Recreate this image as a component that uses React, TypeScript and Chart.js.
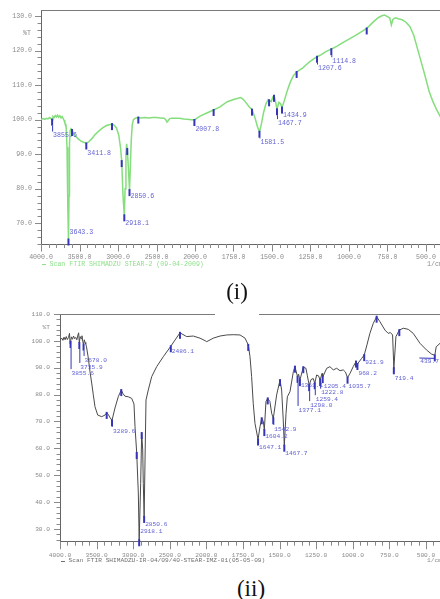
import React, { useEffect, useRef } from 'react';
import { Chart, registerables } from 'chart.js';

Chart.register(...registerables);

// ---------- axes ----------
const xTickWn = [4000, 3500, 3000, 2500, 2000, 1750, 1500, 1250, 1000, 750, 500];
const xTickLabels = ['4000.0', '3500.0', '3000.0', '2500.0', '2000.0', '1750.0', '1500.0', '1250.0', '1000.0', '750.0', '500.0'];
const yTicks1 = [70, 80, 90, 100, 110, 120, 130];
const yTicks2 = [30, 40, 50, 60, 70, 80, 90, 100, 110];

// ---------- spectrum (i) ----------
const wn1 = [
  4000, 3975, 3950, 3930, 3910, 3890, 3870, 3855.6, 3845, 3830,
  3815, 3800, 3785, 3770, 3755, 3740, 3725, 3710, 3700, 3690,
  3675, 3662, 3652, 3643.3, 3636, 3630, 3622, 3610, 3597, 3575,
  3550, 3520, 3480, 3440, 3411.8, 3380, 3340, 3300, 3250, 3200,
  3150, 3100, 3078, 3050, 3020, 2990, 2965, 2952, 2935, 2918.1,
  2908, 2897, 2888, 2880, 2865, 2850.6, 2840, 2828, 2815, 2800,
  2770, 2736, 2700, 2650, 2600, 2550, 2500, 2450, 2400, 2380,
  2364, 2350, 2330, 2300, 2250, 2200, 2150, 2100, 2050, 2007.8,
  1967, 1920, 1879, 1838, 1790, 1745, 1720, 1705, 1690, 1670,
  1650, 1630, 1610, 1595, 1581.5, 1570, 1555, 1540, 1525, 1519,
  1505, 1495, 1487, 1478, 1467.7, 1455, 1445, 1434.9, 1420, 1400,
  1380, 1360, 1340, 1300, 1260, 1230, 1207.6, 1180, 1150, 1114.8,
  1080, 1040, 1000, 960, 920, 885, 860, 835, 810, 790,
  770, 750, 735, 725, 715, 700, 680, 655, 630, 605,
  580, 555, 530, 505, 480, 455, 430, 400,
];
const t1 = [
  100.0, 100.3, 100.1, 100.4, 100.2, 100.6, 100.3, 100.0, 100.9, 100.6,
  101.2, 100.8, 101.3, 100.7, 101.1, 100.5, 100.9, 100.2, 99.8, 99.0,
  98.5, 92.0, 75.0, 65.3, 78.0, 93.0, 96.8, 97.4, 97.0, 96.0,
  95.2, 94.5, 93.8, 93.4, 93.1, 93.6, 94.5, 95.6, 96.7, 97.6,
  98.3, 98.6, 98.7, 98.4, 97.6, 95.5, 91.5, 88.0, 78.0, 72.3,
  80.0, 90.0, 93.0, 91.5, 86.0, 79.6, 86.0, 94.0, 98.5, 100.0,
  100.5, 100.6, 100.5, 100.6, 100.5, 100.6, 100.6, 100.5, 100.4, 100.0,
  99.3, 99.7, 100.3, 100.4, 100.4, 100.4, 100.2, 100.1, 100.0, 99.9,
  101.0, 102.0, 102.8, 103.7, 105.2, 105.9, 106.2, 106.4, 106.0, 105.0,
  103.8, 102.9, 100.5, 98.0, 96.5, 98.5, 102.0, 104.5, 105.8, 105.6,
  105.2, 106.5, 106.9, 105.5, 103.0, 105.0, 104.6, 103.5, 105.5, 108.5,
  111.0, 112.8, 113.8, 115.0, 116.6, 117.6, 118.2, 118.8, 119.7, 120.4,
  121.2, 122.3, 123.3, 124.3, 125.4, 126.4, 127.5, 128.6, 129.5, 130.0,
  130.3, 129.8, 129.4, 127.4, 129.0, 129.5, 129.2, 128.9, 128.2, 127.0,
  124.5, 120.5, 116.5, 112.5, 108.2, 105.2, 102.8, 100.3,
];
const peakWn1 = [3855.6, 3643.3, 3411.8, 2918.1, 2850.6, 2007.8, 1581.5, 1467.7, 1434.9, 1207.6, 1114.8];
const peakLabelWn1 = [3855.6, 3643.3, 3411.8, 2918.1, 2850.6, 2007.8, 1581.5, 1467.7, 1434.9, 1207.6, 1114.8];
const peakLabelT1 = [95.4, 67.3, 90.2, 69.9, 77.7, 97.1, 93.4, 99.0, 101.4, 114.8, 116.9];
const markWn1 = [3597, 3078, 2952, 2880, 2736, 1879, 1630, 1519, 1487, 1340, 885];

// ---------- spectrum (ii) ----------
const wn2 = [
  4000, 3990, 3975, 3960, 3945, 3930, 3915, 3900, 3885, 3870,
  3862, 3855.6, 3845, 3830, 3815, 3800, 3785, 3770, 3755, 3745,
  3735.9, 3725, 3712, 3700, 3690, 3678.0, 3668, 3658, 3648, 3638,
  3613, 3590, 3567, 3545, 3522, 3485, 3430, 3385, 3362, 3340,
  3320, 3289.6, 3249, 3204, 3163, 3140, 3112, 3067, 3020, 2989,
  2975, 2952, 2930, 2918.1, 2898, 2884, 2870, 2862, 2850.6, 2836,
  2825, 2794, 2747, 2679, 2589, 2486.1, 2429, 2361, 2270, 2179,
  2087, 2019, 1998, 1953, 1907, 1861, 1816, 1770, 1736, 1714,
  1702, 1691, 1680, 1668, 1647.1, 1634, 1622, 1611, 1604.2, 1593,
  1581, 1566, 1554, 1542.9, 1520, 1497, 1486, 1475, 1467.7, 1456,
  1447, 1429, 1406, 1395, 1377.1, 1370, 1361.1, 1338, 1320, 1310,
  1298.0, 1285, 1270, 1259.4, 1247, 1234, 1222.8, 1210, 1205.4, 1178,
  1156, 1133, 1110, 1087, 1065, 1050, 1035.7, 1019, 997, 978,
  968.2, 939, 921.9, 903, 883, 860, 837, 814, 780, 758,
  743, 728, 719.4, 705, 682, 655, 621, 587, 541, 496,
  462, 439.7, 430, 400,
];
const t2 = [
  100.4, 100.6, 101.0, 100.2, 101.4, 100.4, 101.6, 100.5, 101.2, 102.8,
  98.8, 99.6, 101.5, 100.6, 101.8, 100.8, 101.3, 100.4, 102.2, 103.0,
  99.2, 101.6, 100.8, 101.9, 99.8, 98.6, 100.4, 99.4, 98.9, 97.8,
  93.6, 88.5, 84.3, 79.9, 75.5, 72.4, 71.8, 72.4, 73.2, 72.6,
  71.6, 70.4, 75.0, 79.2, 81.7, 80.4, 79.4, 79.2, 78.6, 76.5,
  68.0, 58.3, 43.4, 25.8, 47.0, 65.7, 59.4, 47.0, 34.5, 59.4,
  78.0, 81.7, 86.7, 90.4, 94.1, 98.0, 100.3, 103.0, 101.6, 101.8,
  101.0, 100.1, 99.7, 101.0, 101.8, 102.2, 102.3, 102.2, 101.0, 98.5,
  94.1, 86.7, 76.8, 69.3, 63.3, 68.0, 71.2, 70.0, 66.8, 77.4,
  78.6, 77.4, 73.0, 71.2, 79.9, 85.4, 81.7, 70.6, 61.0, 73.0,
  79.2, 81.1, 88.5, 90.4, 86.6, 87.6, 85.4, 90.2, 89.8, 87.0,
  83.5, 85.6, 86.0, 84.2, 87.3, 87.0, 85.4, 87.9, 86.5, 89.8,
  90.4, 89.2, 89.8, 88.9, 89.2, 88.4, 86.3, 87.9, 90.4, 92.3,
  91.4, 93.5, 94.7, 98.5, 102.8, 106.5, 109.0, 107.1, 104.0, 102.8,
  103.1, 102.2, 89.8, 101.6, 104.0, 104.7, 104.3, 102.8, 99.1, 96.6,
  95.1, 94.6, 97.8, 99.3,
];
const peakWn2 = [3855.6, 3735.9, 3678.0, 3289.6, 2918.1, 2850.6, 2486.1, 1647.1, 1604.2, 1542.9, 1467.7,
  1377.1, 1361.1, 1298.0, 1259.4, 1222.8, 1205.4, 1035.7, 968.2, 921.9, 719.4, 439.7];
const peakLabelWn2 = [3855.6, 3735.9, 3678.0, 3289.6, 2918.1, 2850.6, 2486.1, 1647.1, 1604.2, 1542.9, 1467.7,
  1377.1, 1361.1, 1298.0, 1259.4, 1222.8, 1205.4, 1035.7, 968.2, 921.9, 719.4, 545];
const peakLabelT2 = [88.0, 90.3, 92.9, 66.5, 29.3, 31.9, 96.0, 60.5, 64.3, 67.2, 58.3,
  74.3, 83.6, 76.1, 78.3, 80.7, 83.0, 83.0, 87.9, 91.9, 86.1, 92.5];
const markWn2 = [3362, 3163, 2952, 2884, 2361, 1714, 1622, 1581, 1497, 1395, 1338, 978, 837, 682];

const legend1 = 'Scan FTIR SHIMADZU STEAR-2 (09-04-2009)';
const legend2 = 'Scan FTIR SHIMADZU-IR-04/09/40-STEAR-IMZ-01(05-05-09)';

// ---------- helpers ----------
// FTIR x axis: 4000-2000 at 500/division, 2000-400 at 250/division
const toU = (wn: number) => (wn >= 2000 ? (4000 - wn) / 500 : 4 + (2000 - wn) / 250);

function interp(wn: number[], t: number[], w: number) {
  for (let i = 0; i < wn.length - 1; i++) {
    const a = wn[i], b = wn[i + 1];
    if ((a - w) * (b - w) <= 0) {
      const f = a === b ? 0 : (w - a) / (b - a);
      return t[i] + f * (t[i + 1] - t[i]);
    }
  }
  return t[t.length - 1];
}

const MONO = '"Liberation Mono", "DejaVu Sans Mono", monospace';
const TICK_COLOR = '#8a8a8a';
const AXIS_COLOR = '#666666';
const MARK_COLOR = '#3535b8';
const LABEL_COLOR = '#6262d4';

type Spec = {
  top: number; w: number; h: number;
  left: number; plotTop: number; right: number; bottom: number;
  yMin: number; yMax: number; yTicks: number[];
  wn: number[]; t: number[];
  peakWn: number[]; peakLabelWn: number[]; peakLabelT: number[];
  markWn: number[];
  lineColor: string; lineWidth: number;
  font: number; yPad: number; xPad: number;
  legend: string; legendColor: string; legendDy: number;
  yTitleV: number;
};

function makeDecor(s: Spec) {
  return {
    id: 'ftirDecor',
    afterDraw(chart: any) {
      const { ctx, chartArea: a } = chart;
      const xs = chart.scales.x, ys = chart.scales.y;
      const px = (w: number) => xs.getPixelForValue(toU(w));
      const py = (v: number) => ys.getPixelForValue(v);
      const seg = (x1: number, y1: number, x2: number, y2: number) => {
        ctx.beginPath(); ctx.moveTo(x1, y1); ctx.lineTo(x2, y2); ctx.stroke();
      };
      const curve = (w: number) => interp(s.wn, s.t, w);
      ctx.save();
      // top frame
      ctx.lineWidth = 1;
      ctx.strokeStyle = '#7a7a7a';
      seg(a.left, a.top + 0.5, a.right, a.top + 0.5);
      // y ticks (major every 10, minor every 2)
      ctx.strokeStyle = TICK_COLOR;
      for (let v = Math.ceil(s.yMin / 2) * 2; v <= s.yMax + 1e-6; v += 2) {
        const y = Math.round(py(v)) + 0.5;
        const len = v % 10 === 0 ? 6 : 3.5;
        seg(a.left - len, y, a.left, y);
      }
      // x ticks (major at labels, 4 minors between)
      for (let k = 0; k <= 52; k++) {
        const x = Math.round(xs.getPixelForValue(k * 0.2)) + 0.5;
        const len = k % 5 === 0 ? 7.5 : 4;
        seg(x, a.bottom, x, a.bottom + len);
      }
      // unlabeled peak markers
      ctx.strokeStyle = MARK_COLOR;
      ctx.lineWidth = 2;
      for (const w of s.markWn) {
        const x = px(w), y = py(curve(w));
        seg(x, y - 1, x, y + 6);
      }
      // labeled peaks
      ctx.font = `${s.font}px ${MONO}`;
      ctx.textBaseline = 'middle';
      ctx.textAlign = 'left';
      s.peakWn.forEach((w, i) => {
        const x = px(w), y = py(curve(w));
        const lx = px(s.peakLabelWn[i]), ly = py(s.peakLabelT[i]);
        ctx.strokeStyle = MARK_COLOR;
        ctx.lineWidth = 2;
        seg(x, y - 1, x, y + 6);
        ctx.lineWidth = 1;
        if (s.peakLabelWn[i] === w) {
          if (ly - 4 > y + 6) seg(x + 0.5, y + 6, x + 0.5, ly - 4);
        } else {
          seg(x, y + 3, lx, ly - 3);
        }
        ctx.fillStyle = LABEL_COLOR;
        ctx.fillText(w.toFixed(1), lx + 1, ly);
      });
      // legend line
      const gy = a.bottom + s.legendDy;
      ctx.strokeStyle = s.legendColor;
      ctx.fillStyle = s.legendColor;
      ctx.lineWidth = 1;
      seg(a.left + 1, Math.round(gy) + 0.5, a.left + 5, Math.round(gy) + 0.5);
      ctx.fillText(s.legend, a.left + 8.5, gy);
      // unit
      ctx.fillStyle = TICK_COLOR;
      ctx.fillText('1/cm', px(500) + 1, gy - 0.5);
      // y title
      ctx.textAlign = 'right';
      ctx.fillText('%T', a.left - 10, py(s.yTitleV));
      ctx.restore();
    },
  };
}

function buildConfig(s: Spec): any {
  const font = { family: MONO, size: s.font };
  return {
    type: 'line',
    data: {
      datasets: [{
        data: s.wn.map((w, i) => ({ x: toU(w), y: s.t[i] })),
        borderColor: s.lineColor,
        borderWidth: s.lineWidth,
        pointRadius: 0,
        tension: 0,
        fill: false,
      }],
    },
    options: {
      responsive: false,
      animation: false,
      events: [],
      layout: { padding: { left: 0, top: s.plotTop, right: s.w - s.right, bottom: 0 } },
      scales: {
        x: {
          type: 'linear', bounds: 'data', min: 0, max: toU(400),
          afterBuildTicks: (sc: any) => { sc.ticks = xTickWn.map((w) => ({ value: toU(w) })); },
          afterFit: (sc: any) => {
            sc.height = s.h - s.bottom;
            sc.paddingLeft = 0; sc.paddingRight = 0; sc.paddingTop = 0; sc.paddingBottom = 0;
          },
          ticks: {
            autoSkip: false, maxRotation: 0, minRotation: 0, padding: s.xPad,
            color: TICK_COLOR, font, callback: (_v: any, i: number) => xTickLabels[i],
          },
          grid: { display: false, drawTicks: false },
          border: { display: true, color: AXIS_COLOR, width: 1 },
        },
        y: {
          type: 'linear', bounds: 'data', min: s.yMin, max: s.yMax,
          afterBuildTicks: (sc: any) => { sc.ticks = s.yTicks.map((v) => ({ value: v })); },
          afterFit: (sc: any) => {
            sc.width = s.left;
            sc.paddingLeft = 0; sc.paddingRight = 0; sc.paddingTop = 0; sc.paddingBottom = 0;
          },
          ticks: { padding: s.yPad, color: TICK_COLOR, font, callback: (v: any) => Number(v).toFixed(1) },
          grid: { display: false, drawTicks: false },
          border: { display: true, color: AXIS_COLOR, width: 1 },
        },
      },
      plugins: { legend: { display: false }, tooltip: { enabled: false } },
    },
    plugins: [makeDecor(s)],
  };
}

const spec1: Spec = {
  top: 0, w: 460, h: 275, left: 41, plotTop: 10, right: 441.4, bottom: 244,
  yMin: 64.0, yMax: 131.74, yTicks: yTicks1,
  wn: wn1, t: t1, peakWn: peakWn1, peakLabelWn: peakLabelWn1, peakLabelT: peakLabelT1, markWn: markWn1,
  lineColor: '#84de7c', lineWidth: 1.5, font: 6.6, yPad: 9, xPad: 9.5,
  legend: legend1, legendColor: '#8ee08a', legendDy: 20.3, yTitleV: 125,
};

const spec2: Spec = {
  top: 304, w: 460, h: 270, left: 60, plotTop: 10, right: 440.6, bottom: 237.7,
  yMin: 25.27, yMax: 110, yTicks: yTicks2,
  wn: wn2, t: t2, peakWn: peakWn2, peakLabelWn: peakLabelWn2, peakLabelT: peakLabelT2, markWn: markWn2,
  lineColor: '#4a4a4a', lineWidth: 1, font: 6.2, yPad: 10, xPad: 10,
  legend: legend2, legendColor: '#707070', legendDy: 19, yTitleV: 105,
};

function FtirChart({ spec }: { spec: Spec }) {
  const ref = useRef<HTMLCanvasElement>(null);
  useEffect(() => {
    if (!ref.current) return;
    const chart = new Chart(ref.current, buildConfig(spec));
    return () => chart.destroy();
  }, [spec]);
  return (
    <canvas
      ref={ref}
      width={spec.w}
      height={spec.h}
      style={{ position: 'absolute', left: 0, top: spec.top, width: spec.w, height: spec.h, display: 'block' }}
    />
  );
}

const captionFont = '23px "Liberation Serif", "Times New Roman", serif';

export default function App() {
  return (
    <div style={{ position: 'absolute', left: 0, top: 0, width: 440, height: 599, overflow: 'hidden', background: '#ffffff' }}>
      <FtirChart spec={spec1} />
      <FtirChart spec={spec2} />
      <div style={{ position: 'absolute', left: 215, top: 280, width: 44, height: 36, background: '#ffffff', zIndex: 2, textAlign: 'center', font: captionFont, lineHeight: '24px', color: '#111' }}>(i)</div>
      <div style={{ position: 'absolute', left: 221, top: 577, width: 60, height: 24, zIndex: 2, textAlign: 'center', font: captionFont, lineHeight: '24px', color: '#111' }}>(ii)</div>
    </div>
  );
}
